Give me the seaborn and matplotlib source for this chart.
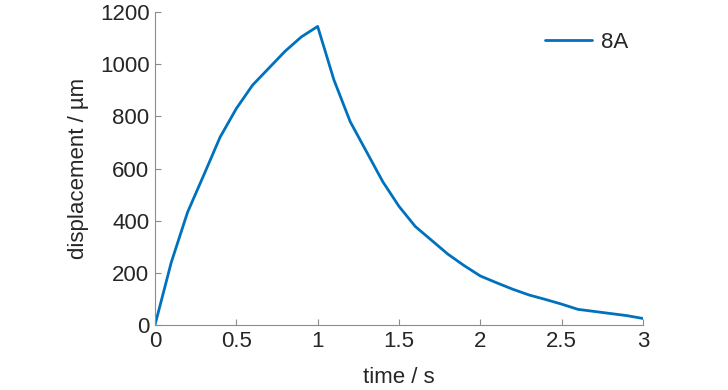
import matplotlib
matplotlib.use("Agg")
import matplotlib.pyplot as plt
import seaborn as sns
import pandas as pd

# time (s) and displacement (um) for coil 8A
time_s = [0.0, 0.1, 0.2, 0.3, 0.4, 0.5, 0.6, 0.7, 0.8, 0.9, 1.0,
          1.1, 1.2, 1.3, 1.4, 1.5, 1.6, 1.7, 1.8, 1.9, 2.0,
          2.1, 2.2, 2.3, 2.4, 2.5, 2.6, 2.7, 2.8, 2.9, 3.0]
displacement_um = [0, 240, 432, 575, 720, 830, 920, 985, 1050, 1105, 1145,
                   940, 780, 665, 550, 455, 378, 325, 272, 228, 188,
                   162, 137, 115, 98, 80, 60, 52, 44, 36, 25]
series_name = "8A"

df = pd.DataFrame({"time": time_s, "disp": displacement_um, "series": series_name})

sns.set_style("white")
plt.rcParams["font.family"] = ["Liberation Sans Narrow", "Liberation Sans", "DejaVu Sans"]

fig = plt.figure(figsize=(7.28, 3.9), dpi=100)
ax = fig.add_axes([0.2129, 0.1667, 0.6703, 0.8023])

sns.lineplot(data=df, x="time", y="disp", hue="series", palette=["#0072BD"],
             linewidth=2.0, ax=ax)

ax.set_xlim(0, 3)
ax.set_ylim(0, 1200)
ax.set_xticks([0, 0.5, 1, 1.5, 2, 2.5, 3])
ax.set_xticklabels(["0", "0.5", "1", "1.5", "2", "2.5", "3"])
ax.set_yticks([0, 200, 400, 600, 800, 1000, 1200])

ax.set_xlabel("time / s", fontsize=16, color="#262626", labelpad=11)
ax.set_ylabel("displacement / µm", fontsize=16, color="#262626", labelpad=8)

for side in ["top", "right"]:
    ax.spines[side].set_visible(False)
for side in ["left", "bottom"]:
    ax.spines[side].set_color("#8c8c8c")
    ax.spines[side].set_linewidth(0.8)

ax.tick_params(direction="in", length=4, width=0.8, color="#8c8c8c",
               labelsize=16, labelcolor="#262626", pad=4, left=True, bottom=True)

leg = ax.legend(loc="upper right", frameon=False, fontsize=16, handlelength=2.1,
                handletextpad=0.4, bbox_to_anchor=(1.01, 1.0))
for t in leg.get_texts():
    t.set_color("#262626")

fig.savefig("out.png", dpi=100)
